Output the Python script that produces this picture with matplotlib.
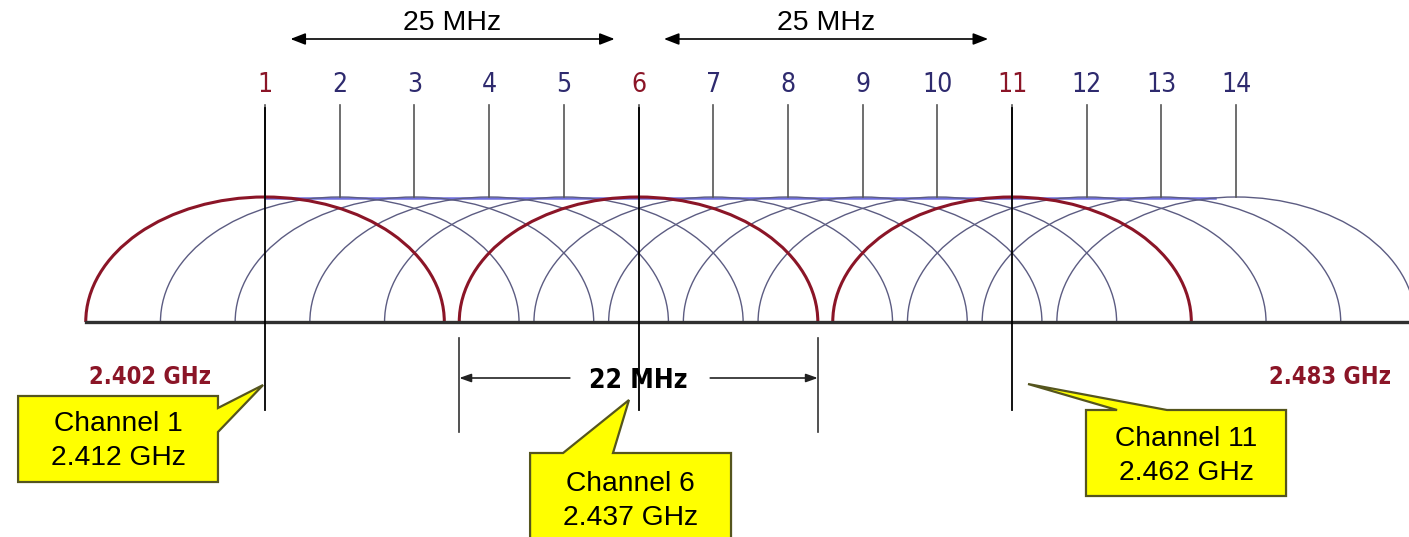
import matplotlib
matplotlib.use("Agg")
import matplotlib.pyplot as plt
from matplotlib.patches import Arc, Polygon

# --- Data ---
channels = [1, 2, 3, 4, 5, 6, 7, 8, 9, 10, 11, 12, 13, 14]
center_mhz = [2412, 2417, 2422, 2427, 2432, 2437, 2442, 2447, 2452, 2457, 2462, 2467, 2472, 2477]
non_overlap = [1, 6, 11]
half_width_mhz = 12          # as drawn in the diagram
band_edges = ["2.402 GHz", "2.483 GHz"]
band_edge_mhz = [2404.3, 2483.3]
spacing_label = "25 MHz"
width_label = "22 MHz"
callouts = {1: "Channel 1\n2.412 GHz", 6: "Channel 6\n2.437 GHz", 11: "Channel 11\n2.462 GHz"}

# --- Styles ---
RED = "#8B1527"
NAVY = "#2E2A6E"
GREY_ARC = "#5C5C82"
YELLOW = "#FFFF00"
BOX_EDGE = "#55551E"
NARROW = dict(family="DejaVu Sans", stretch="condensed")
ARIAL = ["Liberation Sans", "DejaVu Sans"]

fig = plt.figure(figsize=(14.09, 5.37), dpi=100)
ax = fig.add_axes([0, 0, 1, 1])
ax.set_xlim(2394.26, 2488.57)
ax.set_ylim(-1.72, 2.576)
ax.axis("off")

cen = dict(zip(channels, center_mhz))

# --- Spectrum masks ---
for ch, c in zip(channels, center_mhz):
    if ch in non_overlap:
        continue
    ax.add_patch(Arc((c, 0), 2 * half_width_mhz, 2, theta1=0, theta2=180,
                     color=GREY_ARC, lw=1.0, zorder=2))
ax.plot([center_mhz[0], center_mhz[-1] - 1.4], [0.99, 0.99], color="#6E6EDC", lw=1.8, zorder=1)
for ch in non_overlap:
    ax.add_patch(Arc((cen[ch], 0), 2 * half_width_mhz, 2, theta1=0, theta2=180,
                     color=RED, lw=2.2, zorder=3))

# baseline
ax.plot([center_mhz[0] - half_width_mhz, 2490], [0, 0], color="#303030", lw=2.4, zorder=4)

# --- Channel ticks and numbers ---
for ch, c in zip(channels, center_mhz):
    col = RED if ch in non_overlap else NAVY
    ax.plot([c, c], [1.0, 1.736], color="#555555", lw=1.2, zorder=2)
    ax.text(c, 1.9, str(ch), color=col, fontsize=19, ha="center", va="center", **NARROW)
for ch in non_overlap:
    ax.plot([cen[ch], cen[ch]], [1.712, -0.704], color="black", lw=1.3, zorder=5)

# --- 25 MHz spacing arrows ---
for a, b in [(1, 6), (6, 11)]:
    x0, x1 = cen[a] + 1.7, cen[b] - 1.6
    ax.annotate("", xy=(x0, 2.264), xytext=(x1, 2.264),
                arrowprops=dict(arrowstyle="<|-|>,head_length=0.9,head_width=0.35",
                                color="black", lw=1.2, shrinkA=0, shrinkB=0))
    ax.text((x0 + x1) / 2, 2.39, spacing_label, fontsize=20.5, family=ARIAL,
            ha="center", va="center")

# --- 22 MHz channel width ---
lo, hi = cen[6] - half_width_mhz, cen[6] + half_width_mhz
for x in (lo, hi):
    ax.plot([x, x], [-0.128, -0.88], color="#333333", lw=1.2)
ax.annotate("", xy=(lo, -0.448), xytext=(lo + 7.4, -0.448),
            arrowprops=dict(arrowstyle="-|>,head_length=0.7,head_width=0.25",
                            color="#222222", lw=1.2, shrinkA=0, shrinkB=0))
ax.annotate("", xy=(hi, -0.448), xytext=(hi - 7.2, -0.448),
            arrowprops=dict(arrowstyle="-|>,head_length=0.7,head_width=0.25",
                            color="#222222", lw=1.2, shrinkA=0, shrinkB=0))
ax.text(cen[6], -0.47, width_label, fontsize=19, weight="bold",
        ha="center", va="center", zorder=6, **NARROW)

# --- Band edges ---
for lbl, x in zip(band_edges, band_edge_mhz):
    ax.text(x, -0.44, lbl, color=RED, fontsize=17, weight="bold",
            ha="center", va="center", **NARROW)

# --- Callouts: box (x0, x1, y0, y1), pointer base, tip, text position ---
shapes = {
    1: dict(box=(2395.47, 2408.85, -0.592, -1.28),
            pointer=[(2408.85, -0.688), (2408.85, -0.88)], tip=(2411.87, -0.504),
            text=(2402.16, -0.95)),
    6: dict(box=(2429.74, 2443.19, -1.048, -1.80),
            pointer=[(2431.95, -1.048), (2435.29, -1.048)], tip=(2436.36, -0.624),
            text=(2436.46, -1.43)),
    11: dict(box=(2466.95, 2480.34, -0.704, -1.392),
             pointer=[(2469.03, -0.704), (2472.37, -0.704)], tip=(2463.07, -0.496),
             text=(2473.65, -1.07)),
}
for ch, s in shapes.items():
    x0, x1, y0, y1 = s["box"]
    p0, p1 = s["pointer"]
    if p0[0] == x1:  # pointer on right edge
        pts = [(x0, y0), (x1, y0), p0, s["tip"], p1, (x1, y1), (x0, y1)]
    else:            # pointer on top edge
        pts = [(x0, y0), p0, s["tip"], p1, (x1, y0), (x1, y1), (x0, y1)]
    ax.add_patch(Polygon(pts, closed=True, fc=YELLOW, ec=BOX_EDGE, lw=1.6, zorder=7))
    ax.text(*s["text"], callouts[ch], fontsize=20.3, family=ARIAL, ha="center",
            va="center", linespacing=1.38, zorder=8)

fig.savefig("out.png", dpi=100)
